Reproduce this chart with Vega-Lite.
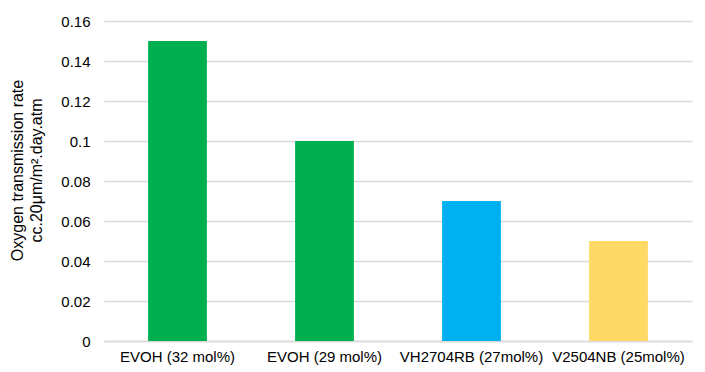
{
  "$schema": "https://vega.github.io/schema/vega-lite/v6.json",
  "width": 588,
  "height": 320,
  "autosize": {"type": "none"},
  "padding": {"left": 104, "top": 21, "right": 13, "bottom": 31},
  "background": "white",
  "config": {
    "view": {"stroke": null},
    "font": "Liberation Sans",
    "axis": {"labelFont": "Liberation Sans", "titleFont": "Liberation Sans", "labelColor": "#000000", "titleColor": "#000000"}
  },
  "data": {
    "values": [
      {"material": "EVOH (32 mol%)", "otr": 0.15, "color": "#00B050"},
      {"material": "EVOH (29 mol%)", "otr": 0.10, "color": "#00B050"},
      {"material": "VH2704RB (27mol%)", "otr": 0.07, "color": "#00B0F0"},
      {"material": "V2504NB (25mol%)", "otr": 0.05, "color": "#FFD966"}
    ]
  },
  "mark": {"type": "bar"},
  "encoding": {
    "x": {
      "field": "material",
      "type": "nominal",
      "sort": null,
      "scale": {"paddingInner": 0.6, "paddingOuter": 0.3},
      "axis": {
        "title": null,
        "labelAngle": 0,
        "labelFontSize": 15,
        "labelPadding": 8,
        "ticks": false,
        "domain": true,
        "domainColor": "#d9d9d9",
        "domainWidth": 1.5
      }
    },
    "y": {
      "field": "otr",
      "type": "quantitative",
      "scale": {"domain": [0, 0.16], "nice": false},
      "axis": {
        "values": [0, 0.02, 0.04, 0.06, 0.08, 0.1, 0.12, 0.14, 0.16],
        "labelExpr": "datum.value === 0 ? '0' : format(datum.value, '.2~f')",
        "title": ["Oxygen transmission rate", "cc.20μm/m².day.atm"],
        "titleFontSize": 16,
        "titleLineHeight": 19,
        "titleFontWeight": "normal",
        "titlePadding": 16,
        "titleY": 149,
        "labelFontSize": 15,
        "labelPadding": 14,
        "ticks": false,
        "domain": false,
        "grid": true,
        "gridColor": "#d9d9d9",
        "gridWidth": 1.5
      }
    },
    "color": {"field": "color", "type": "nominal", "scale": null, "legend": null}
  }
}
